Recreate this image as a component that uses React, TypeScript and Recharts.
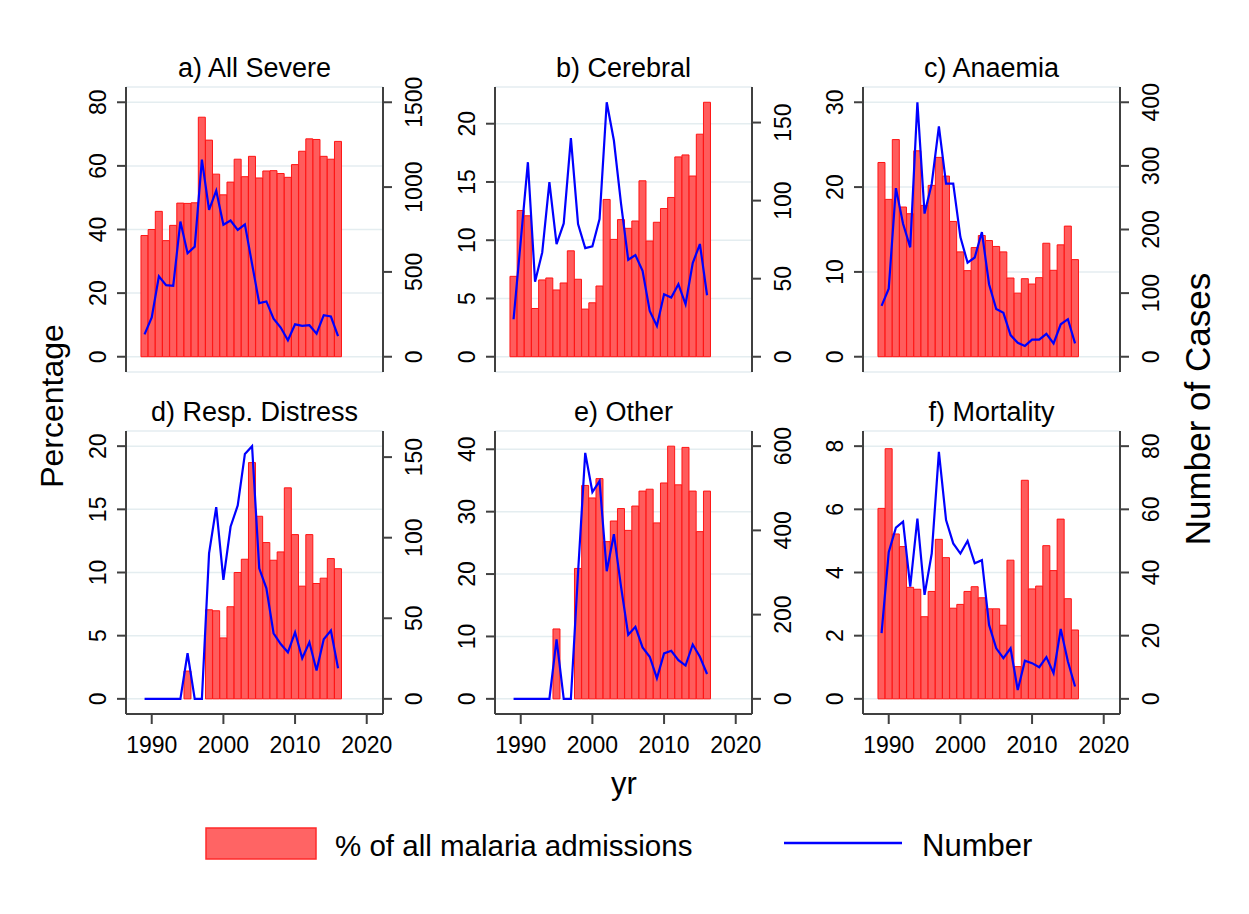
import React from "react";
import { ComposedChart, Bar, Line, XAxis, YAxis, CartesianGrid } from "recharts";

// admission years
const years = [
  1989, 1990, 1991, 1992, 1993, 1994, 1995, 1996, 1997, 1998, 1999, 2000, 2001, 2002,
  2003, 2004, 2005, 2006, 2007, 2008, 2009, 2010, 2011, 2012, 2013, 2014, 2015, 2016,
];

// a) All Severe
const severePct = [38.1, 40.0, 45.7, 36.5, 41.3, 48.3, 48.2, 48.4, 75.3, 68.1, 57.4, 50.9, 54.9, 62.1, 56.6, 63.0, 56.2, 58.4, 58.5, 57.6, 56.4, 60.4, 64.6, 68.5, 68.3, 63.0, 62.1, 67.7];
const severeNum = [132, 231, 474, 422, 418, 797, 610, 649, 1162, 866, 979, 778, 803, 748, 780, 547, 316, 326, 225, 172, 97, 191, 182, 186, 136, 245, 237, 122];

// b) Cerebral
const cerebralPct = [6.9, 12.55, 12.1, 4.14, 6.59, 6.76, 5.73, 6.33, 9.09, 6.65, 4.09, 4.63, 6.07, 13.5, 10.07, 11.77, 11.02, 11.65, 15.1, 9.93, 11.54, 12.72, 13.67, 17.15, 17.32, 15.51, 19.1, 21.84];
const cerebralNum = [24, 74, 124.6, 48, 66.8, 111.8, 72.2, 85.4, 140, 85, 69.6, 70.7, 88.2, 163, 138.5, 97.9, 62.1, 65.1, 55, 29.3, 19.7, 40, 37.9, 46.5, 33.6, 60, 72.2, 39.4];

// c) Anaemia
const anaemiaPct = [22.9, 18.55, 25.6, 17.65, 16.86, 24.28, 17.84, 20.2, 23.5, 21.3, 15.95, 12.36, 10.15, 12.87, 14.29, 13.7, 13.0, 12.36, 9.28, 7.5, 9.2, 8.57, 9.32, 13.38, 10.19, 13.19, 15.4, 11.45];
const anaemiaNum = [80, 107, 265, 209, 172, 400, 225, 272, 362, 272, 272, 188, 148, 156, 196, 114, 75, 69, 34, 22, 17, 27, 27, 36, 21, 51, 59, 21];

// d) Resp. Distress
const respPct = [null, null, null, null, null, null, 2.2, null, null, 7.05, 6.97, 4.82, 7.29, 10.0, 11.05, 18.7, 14.45, 12.37, 10.97, 11.63, 16.7, 13.0, 8.92, 13.0, 9.13, 9.55, 11.1, 10.3];
const respNum = [0, 0, 0, 0, 0, 0, 28.3, 0, 0, 90.3, 119, 73.8, 106.8, 120, 152, 156.8, 81, 68.6, 40.7, 34, 28.9, 41.3, 25.2, 35.1, 17.6, 37, 42.4, 19];

// e) Other
const otherPct = [null, null, null, null, null, null, 11.2, null, null, 20.9, 34.2, 32.2, 35.3, 25.2, 28.5, 30.5, 27.0, 30.9, 33.3, 33.6, 28.2, 34.6, 40.5, 34.3, 40.3, 33.3, 26.8, 33.3];
const otherNum = [0, 0, 0, 0, 0, 0, 141, 0, 0, 300, 584, 491, 517, 303, 391, 266, 152, 171, 122, 100, 49, 108, 114, 92, 79, 129, 100, 59];

// f) Mortality
const mortalityPct = [6.03, 7.92, 5.22, 4.82, 3.53, 3.47, 2.6, 3.4, 5.05, 4.47, 2.87, 2.99, 3.4, 3.55, 3.2, 2.85, 2.85, 2.33, 4.39, 1.02, 6.92, 3.48, 3.57, 4.85, 4.06, 5.69, 3.17, 2.18];
const mortalityNum = [20.8, 46.4, 54.2, 56.1, 35.5, 57.1, 32.9, 46, 78.2, 56.6, 49.2, 46, 50, 42.9, 43.9, 23.4, 16, 12.9, 16, 2.8, 12.1, 11.3, 10, 13.2, 8.1, 22.1, 11.8, 3.9];

const xTicks = [1990, 2000, 2010, 2020];

const FONT = "'Liberation Sans', Arial, Helvetica, sans-serif";
const AXIS = "#404040";
const PLOT_W = 257;
const SIDE = 60;
const PAD_TOP = 30;
const COLS = [126, 495, 863];
const ROWS = [
  { top: 87, h: 285, titleY: 77 },
  { top: 431, h: 283, titleY: 421 },
];

type PanelProps = {
  title: string;
  pct: (number | null)[];
  num: number[];
  leftTicks: number[];
  rightTicks: number[];
  col: number;
  row: number;
};

const Panel = ({ pct, num, leftTicks, rightTicks, col, row }: PanelProps) => {
  const data = years.map((yr, i) => ({ yr, pct: pct[i], num: num[i] }));
  const topL = Math.max(...(pct.filter((v) => v != null) as number[]), leftTicks[leftTicks.length - 1]);
  const topR = Math.max(...num, rightTicks[rightTicks.length - 1]);
  const r = ROWS[row];
  const bottom = row === 1;
  const height = PAD_TOP + (bottom ? r.h + 50 : r.h + 10);

  const leftTick = (p: any) => {
    const x = SIDE - 20;
    return (
      <text x={x} y={p.y} transform={`rotate(-90 ${x} ${p.y})`} textAnchor="middle" fontSize={23} fontFamily={FONT} fill="#000">
        {p.payload.value}
      </text>
    );
  };
  const rightTick = (p: any) => {
    const x = SIDE + PLOT_W + 39;
    return (
      <text x={x} y={p.y} transform={`rotate(-90 ${x} ${p.y})`} textAnchor="middle" fontSize={23} fontFamily={FONT} fill="#000">
        {p.payload.value}
      </text>
    );
  };
  const bottomTick = (p: any) => (
    <text x={p.x} y={PAD_TOP + r.h + 39} textAnchor="middle" fontSize={23} fontFamily={FONT} fill="#000">
      {p.payload.value}
    </text>
  );

  return (
    <div style={{ position: "absolute", left: COLS[col] - SIDE, top: r.top - PAD_TOP }}>
      <ComposedChart
        width={PLOT_W + 2 * SIDE}
        height={height}
        data={data}
        margin={{ top: PAD_TOP, right: 0, bottom: bottom ? 0 : 10, left: 0 }}
      >
        <CartesianGrid yAxisId="left" vertical={false} stroke="#e4edf0" strokeWidth={1.5} />
        <XAxis
          dataKey="yr"
          type="number"
          domain={[1986.41, 2022.27]}
          ticks={xTicks}
          hide={!bottom}
          height={50}
          stroke={AXIS}
          strokeWidth={2}
          tickSize={10}
          tick={bottomTick}
        />
        <YAxis
          yAxisId="left"
          orientation="left"
          type="number"
          width={SIDE}
          domain={[-0.06 * topL, 1.06 * topL]}
          ticks={leftTicks}
          stroke={AXIS}
          strokeWidth={2}
          tickSize={9}
          tick={leftTick}
        />
        <YAxis
          yAxisId="right"
          orientation="right"
          type="number"
          width={SIDE}
          domain={[-0.06 * topR, 1.06 * topR]}
          ticks={rightTicks}
          stroke={AXIS}
          strokeWidth={2}
          tickSize={9}
          tick={rightTick}
        />
        <Bar yAxisId="left" dataKey="pct" barSize={7} fill="#ff5c5c" stroke="#ff1414" strokeWidth={1} isAnimationActive={false} />
        <Line yAxisId="right" dataKey="num" type="linear" stroke="#0000ff" strokeWidth={2.2} dot={false} isAnimationActive={false} />
      </ComposedChart>
    </div>
  );
};

const panels: PanelProps[] = [
  { title: "a) All Severe", pct: severePct, num: severeNum, leftTicks: [0, 20, 40, 60, 80], rightTicks: [0, 500, 1000, 1500], col: 0, row: 0 },
  { title: "b) Cerebral", pct: cerebralPct, num: cerebralNum, leftTicks: [0, 5, 10, 15, 20], rightTicks: [0, 50, 100, 150], col: 1, row: 0 },
  { title: "c) Anaemia", pct: anaemiaPct, num: anaemiaNum, leftTicks: [0, 10, 20, 30], rightTicks: [0, 100, 200, 300, 400], col: 2, row: 0 },
  { title: "d) Resp. Distress", pct: respPct, num: respNum, leftTicks: [0, 5, 10, 15, 20], rightTicks: [0, 50, 100, 150], col: 0, row: 1 },
  { title: "e) Other", pct: otherPct, num: otherNum, leftTicks: [0, 10, 20, 30, 40], rightTicks: [0, 200, 400, 600], col: 1, row: 1 },
  { title: "f) Mortality", pct: mortalityPct, num: mortalityNum, leftTicks: [0, 2, 4, 6, 8], rightTicks: [0, 20, 40, 60, 80], col: 2, row: 1 },
];

export default function App() {
  return (
    <div style={{ position: "absolute", left: 0, top: 0, width: 1249, height: 914, background: "#fff", fontFamily: FONT }}>
      {panels.map((p) => (
        <Panel key={p.title} {...p} />
      ))}
      <svg width={1249} height={914} style={{ position: "absolute", left: 0, top: 0, pointerEvents: "none" }} fontFamily={FONT}>
        {panels.map((p) => (
          <text key={p.title} x={COLS[p.col] + PLOT_W / 2} y={ROWS[p.row].titleY} textAnchor="middle" fontSize={27} fill="#000">
            {p.title}
          </text>
        ))}
        <text x={63} y={406} transform="rotate(-90 63 406)" textAnchor="middle" fontSize={32} fill="#000">
          Percentage
        </text>
        <text x={1210} y={409} transform="rotate(-90 1210 409)" textAnchor="middle" fontSize={35} fill="#000">
          Number of Cases
        </text>
        <text x={624} y={794} textAnchor="middle" fontSize={31} fill="#000">
          yr
        </text>
        <rect x={206} y={828} width={110} height={31} fill="#ff6464" stroke="#ff2a2a" strokeWidth={1.5} />
        <text x={335} y={856} fontSize={29.5} fill="#000">
          % of all malaria admissions
        </text>
        <line x1={784} y1={843} x2={902} y2={843} stroke="#0000ff" strokeWidth={2.5} />
        <text x={922} y={856} fontSize={31} fill="#000">
          Number
        </text>
      </svg>
    </div>
  );
}
